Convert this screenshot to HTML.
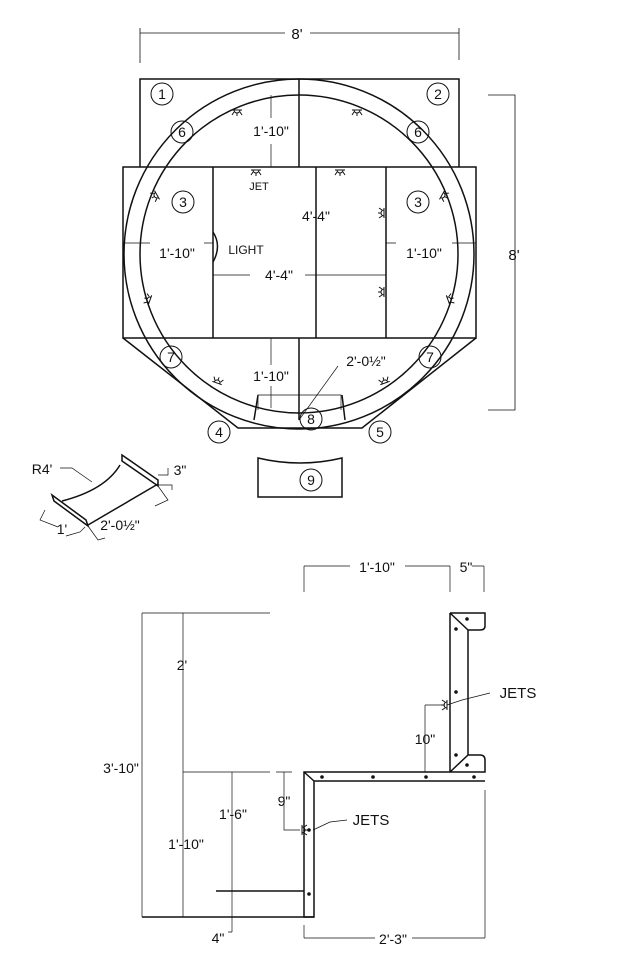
<!DOCTYPE html>
<html><head><meta charset="utf-8"><style>body{margin:0;background:#fff}svg{display:block}text{font-family:"Liberation Sans",Arial,sans-serif;fill:#111}</style></head>
<body>
<svg width="640" height="964" viewBox="0 0 640 964" xmlns="http://www.w3.org/2000/svg">
<defs>
<g id="jet" fill="none" stroke="#111" stroke-width="1"><path d="M-3 0A3 3 0 0 0 3 0"/><path d="M0 3V6 M-3 2L-5 5 M3 2L5 5 M-5 0H5"/></g>
</defs>
<g fill="none" stroke="#111" stroke-width="1.5">
<path d="M140 33H285 M310 33H459 M140 28V63 M459 28V60" stroke-width="0.8"/>
<path d="M488 95H515V410H488" stroke-width="0.8"/>
<path d="M140 167V79H459V167 M299 79V167"/>
<rect x="123" y="167" width="353" height="171"/>
<path d="M213 167V338 M386 167V338 M316 167V338"/>
<path d="M123 338L238 428H362L476 338 M299 338V420"/>
<circle cx="299" cy="254" r="175"/>
<circle cx="299" cy="254" r="159"/>
<g stroke-width="0.7">
<path d="M271 95V118 M271 144V167"/>
<path d="M123 243H150 M204 243H213 M386 243H396 M452 243H476"/>
<path d="M213 275H250 M305 275H386"/>
<path d="M271 338V365 M271 386V408"/>
<path d="M258 410V395H341V410"/>
<path d="M299 420L338 366"/>
</g>
<path d="M258 395L254 420 M342 395L345 420"/>
<path d="M213 232Q222 246 213 262"/>
<g stroke-width="1">
<circle cx="162" cy="94" r="11"/><circle cx="438" cy="94" r="11"/>
<circle cx="182" cy="132" r="11"/><circle cx="418" cy="132" r="11"/>
<circle cx="183" cy="202" r="11"/><circle cx="418" cy="202" r="11"/>
<circle cx="171" cy="357" r="11"/><circle cx="430" cy="357" r="11"/>
<circle cx="311" cy="419" r="11"/><circle cx="219" cy="432" r="11"/>
<circle cx="380" cy="432" r="11"/><circle cx="311" cy="480" r="11"/>
</g>
<path d="M258 458Q300 468 342 458V497H258Z"/>
<path d="M52 495L86 520L88 526L54 501Z M122 455L158 480L158 486L122 461Z"/>
<path d="M62 501Q105 490 120 465 M88 525L158 484"/>
<path d="M60 468H72L92 482 M158 475H168V468 M158 485H172V490 M45 510L40 520L58 527 M85 527L80 532L66 536 M88 526L98 540L105 538 M158 486L168 500L155 506" stroke-width="0.7"/>
<g stroke-width="0.7">
<path d="M304 566H350 M405 566H450 M472 566H484 M304 566V592 M450 566V592 M484 566V592"/>
<path d="M142 613H270 M142 613V917 M183 613V917 M183 772H270 M232 772V932 M228 932H232"/>
<path d="M304 938H375 M412 938H485 M304 925V938 M485 790V938"/>
<path d="M284 772V830H300 M276 772H292"/>
<path d="M425 705V772 M425 705H445"/>
<path d="M447 705L462 700L490 693 M313 830L330 822L347 820"/>
</g>
<path d="M450 613H485V626Q485 630 480 630H468V755H480Q485 755 485 760V772H304V917H314V781H485 M450 613V772H468 M304 772L314 781 M450 613L468 630 M468 755L450 772"/>
<path d="M216 891H304 M142 917H314"/>
<g fill="#111" stroke="none">
<circle cx="456" cy="629" r="1.8"/><circle cx="467" cy="619" r="1.8"/><circle cx="456" cy="692" r="1.8"/><circle cx="456" cy="755" r="1.8"/><circle cx="467" cy="765" r="1.8"/>
<circle cx="322" cy="777" r="1.8"/><circle cx="373" cy="777" r="1.8"/><circle cx="426" cy="777" r="1.8"/><circle cx="474" cy="777" r="1.8"/>
<circle cx="309" cy="830" r="1.8"/><circle cx="309" cy="894" r="1.8"/>
</g>
</g>
<use href="#jet" transform="translate(237,110)"/>
<use href="#jet" transform="translate(357,110)"/>
<use href="#jet" transform="translate(256,170)"/>
<use href="#jet" transform="translate(340,170)"/>
<use href="#jet" transform="translate(157,195) rotate(60)"/>
<use href="#jet" transform="translate(442,195) rotate(-60)"/>
<use href="#jet" transform="translate(384,213) rotate(90)"/>
<use href="#jet" transform="translate(384,292) rotate(90)"/>
<use href="#jet" transform="translate(150,300) rotate(110)"/>
<use href="#jet" transform="translate(448,300) rotate(-110)"/>
<use href="#jet" transform="translate(217,383) rotate(200)"/>
<use href="#jet" transform="translate(385,383) rotate(160)"/>
<use href="#jet" transform="translate(447,705) rotate(90)"/>
<use href="#jet" transform="translate(302,830) rotate(-90)"/>
<g font-size="14" text-anchor="middle">
<text x="297" y="39" font-size="15">8'</text>
<text x="514" y="260" font-size="15">8'</text>
<text x="271" y="136">1'-10"</text>
<text x="259" y="190" font-size="11">JET</text>
<text x="316" y="221">4'-4"</text>
<text x="246" y="254" font-size="12">LIGHT</text>
<text x="177" y="258">1'-10"</text>
<text x="424" y="258">1'-10"</text>
<text x="279" y="280">4'-4"</text>
<text x="271" y="381">1'-10"</text>
<text x="366" y="366">2'-0½"</text>
<g font-size="14">
<text x="162" y="99">1</text><text x="438" y="99">2</text>
<text x="182" y="137">6</text><text x="418" y="137">6</text>
<text x="183" y="207">3</text><text x="418" y="207">3</text>
<text x="171" y="362">7</text><text x="430" y="362">7</text>
<text x="311" y="424">8</text><text x="219" y="437">4</text>
<text x="380" y="437">5</text><text x="311" y="485">9</text>
</g>
<text x="42" y="474">R4'</text>
<text x="180" y="475">3"</text>
<text x="62" y="534">1'</text>
<text x="120" y="530">2'-0½"</text>
<text x="377" y="572">1'-10"</text>
<text x="466" y="572">5"</text>
<text x="518" y="698" font-size="15">JETS</text>
<text x="371" y="825" font-size="15">JETS</text>
<text x="182" y="670">2'</text>
<text x="121" y="773">3'-10"</text>
<text x="233" y="819">1'-6"</text>
<text x="284" y="806">9"</text>
<text x="425" y="744">10"</text>
<text x="186" y="849">1'-10"</text>
<text x="218" y="943">4"</text>
<text x="393" y="944">2'-3"</text>
</g>
</svg>
</body></html>
